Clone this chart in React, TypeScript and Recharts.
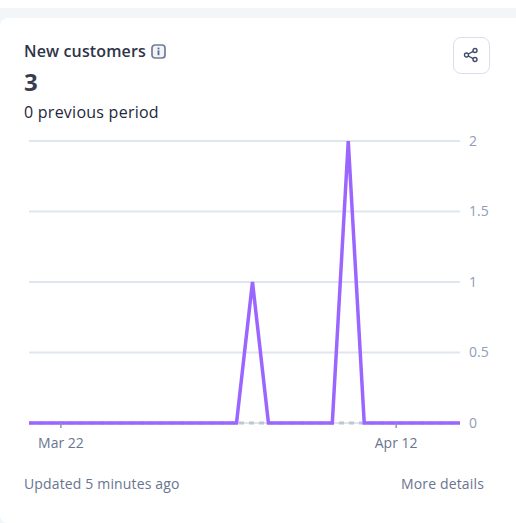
import { LineChart, Line, XAxis, YAxis, CartesianGrid } from 'recharts';

const days = [
  'Mar 20', 'Mar 21', 'Mar 22', 'Mar 23', 'Mar 24', 'Mar 25', 'Mar 26',
  'Mar 27', 'Mar 28', 'Mar 29', 'Mar 30', 'Mar 31', 'Apr 1', 'Apr 2',
  'Apr 3', 'Apr 4', 'Apr 5', 'Apr 6', 'Apr 7', 'Apr 8', 'Apr 9',
  'Apr 10', 'Apr 11', 'Apr 12', 'Apr 13', 'Apr 14', 'Apr 15', 'Apr 16',
];
const current = [0, 0, 0, 0, 0, 0, 0, 0, 0, 0, 0, 0, 0, 0, 1, 0, 0, 0, 0, 0, 2, 0, 0, 0, 0, 0, 0, 0];
const previous = [0, 0, 0, 0, 0, 0, 0, 0, 0, 0, 0, 0, 0, 0, 0, 0, 0, 0, 0, 0, 0, 0, 0, 0, 0, 0, 0, 0];
const xTicks = ['Mar 22', 'Apr 12'];
const yTicks = [0, 0.5, 1, 1.5, 2];

const data = days.map((day, i) => ({ day, current: current[i], previous: previous[i] }));

const FONT = '"Open Sans", "Noto Sans", sans-serif';

function abs(left: number, top: number, extra: React.CSSProperties = {}): React.CSSProperties {
  return { position: 'absolute', left, top, whiteSpace: 'nowrap', fontFamily: FONT, ...extra };
}

export default function App() {
  return (
    <div style={{ position: 'absolute', left: 0, top: 0, width: 516, height: 523, background: '#fff', overflow: 'hidden' }}>
      <div style={{ position: 'absolute', left: 0, top: 8, width: 516, height: 515, background: '#f3f6f9' }} />
      <div style={{ position: 'absolute', left: 0, top: 18, width: 516, height: 505, background: '#fff', borderRadius: '8px 0 0 8px' }} />

      <div style={abs(24, 40, { fontSize: 16, fontWeight: 600, color: '#2f3447', lineHeight: '22px', letterSpacing: 0.14 })}>New customers</div>
      <svg style={{ position: 'absolute', left: 151, top: 44 }} width={15} height={15} viewBox="0 0 15 15">
        <rect x={1} y={1} width={13} height={13} rx={3} fill="#f2f4f8" stroke="#727c98" strokeWidth={1.7} />
        <rect x={6.6} y={3.6} width={1.8} height={1.8} fill="#5c6785" />
        <rect x={6.6} y={6.4} width={1.8} height={4.8} fill="#5c6785" />
      </svg>
      <div style={abs(24, 66, { fontSize: 24, fontWeight: 700, color: '#3a3d4f', lineHeight: '32px' })}>3</div>
      <div style={abs(24, 101, { fontSize: 16, color: '#23283b', lineHeight: '22px', letterSpacing: 0.25 })}>0 previous period</div>

      <div style={{ position: 'absolute', left: 453, top: 37, width: 35, height: 35, border: '1px solid #d8dfeb', borderRadius: 8, boxSizing: 'content-box' }} />
      <svg style={{ position: 'absolute', left: 463, top: 47 }} width={16} height={16} viewBox="0 0 16 16">
        <g fill="none" stroke="#3f4c6b" strokeWidth={1.4}>
          <circle cx={12} cy={3.5} r={2} />
          <circle cx={3.5} cy={8} r={2} />
          <circle cx={12} cy={12.5} r={2} />
          <path d="M5.3 7 L10.2 4.4 M5.3 9 L10.2 11.6" />
        </g>
      </svg>

      <LineChart
        width={516}
        height={523}
        data={data}
        margin={{ top: 141, right: 10, bottom: 64, left: 29 }}
        style={{ position: 'absolute', left: 0, top: 0 }}
      >
        <CartesianGrid horizontal vertical={false} stroke="#dfe6ef" strokeWidth={2} />
        <XAxis
          dataKey="day"
          ticks={xTicks}
          interval={0}
          axisLine={false}
          tickSize={5}
          tickLine={{ stroke: '#8a97ad', strokeWidth: 1.5 }}
          tick={{ fill: '#69758f', fontSize: 14, fontFamily: FONT }}
          tickMargin={10}
          height={36}
        />
        <YAxis
          orientation="right"
          domain={[0, 2]}
          ticks={yTicks}
          interval={0}
          axisLine={false}
          tickLine={false}
          tick={{ fill: '#8f9cba', fontSize: 14, fontFamily: FONT, textAnchor: 'start' }}
          tickMargin={9}
          tickSize={0}
          width={46}
        />
        <Line
          dataKey="previous"
          stroke="#bcc8d2"
          strokeWidth={3}
          strokeDasharray="5 5"
          dot={false}
          activeDot={false}
          isAnimationActive={false}
        />
        <Line
          dataKey="current"
          stroke="#9b66ff"
          strokeWidth={3.5}
          dot={false}
          activeDot={false}
          strokeLinejoin="miter"
          isAnimationActive={false}
        />
      </LineChart>

      <div style={abs(24, 474, { fontSize: 14, color: '#69758f', lineHeight: '20px', letterSpacing: 0.15 })}>Updated 5 minutes ago</div>
      <div style={abs(401, 474, { fontSize: 14, color: '#69758f', lineHeight: '20px', letterSpacing: 0.15 })}>More details</div>
    </div>
  );
}
